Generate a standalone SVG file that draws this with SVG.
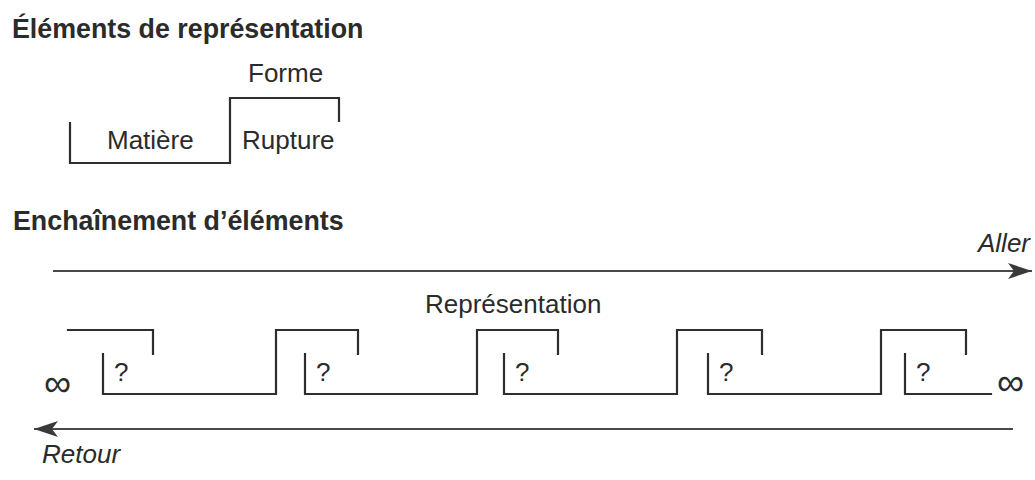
<svg xmlns="http://www.w3.org/2000/svg" width="1035" height="480" viewBox="0 0 1035 480">
<defs>
<style>
.t{font-family:"Liberation Sans",Arial,sans-serif;fill:#2b2b2b;font-size:26px}
.h{font-weight:bold;font-size:26.8px}
.i{font-style:italic}
.inf{font-family:"Liberation Sans",Arial,sans-serif;fill:#2b2b2b;font-size:38px}
.s{fill:none;stroke:#2e2e2e;stroke-width:2.2;stroke-linejoin:miter;stroke-linecap:square}
.a{fill:none;stroke:#4a4a4a;stroke-width:1.8}
</style>
<marker id="ah" markerUnits="userSpaceOnUse" markerWidth="26" markerHeight="18" refX="24" refY="9" orient="auto">
<path d="M0,1 L24,9 L0,17 L6,9 Z" fill="#3a3a3a"/>
</marker>
</defs>
<rect width="1035" height="480" fill="#ffffff"/>

<g id="title1"><text class="t h" x="12" y="38">Éléments de représentation</text></g>

<g id="element-legend">
<path class="s" d="M70,123 V163 H230 V98 H339 V121"/>
<text class="t" x="248" y="82">Forme</text>
<text class="t" x="107" y="149">Matière</text>
<text class="t" x="242" y="149">Rupture</text>
</g>

<g id="title2"><text class="t h" x="13" y="230">Enchaînement d’éléments</text></g>

<g id="connectors">
<line class="a" x1="53" y1="271" x2="1032" y2="271" marker-end="url(#ah)"/>
<line class="a" x1="1013" y1="429" x2="34" y2="429" marker-end="url(#ah)"/>
</g>
<text class="t i" x="978" y="252">Aller</text>
<text class="t i" x="42" y="463">Retour</text>
<text class="t" x="425" y="313">Représentation</text>

<g id="inf-left"><text class="inf" x="44" y="396">∞</text></g>
<g id="inf-right"><text class="inf" x="997" y="395">∞</text></g>

<g id="elem0"><path class="s" d="M68,330 H153 V354"/></g>
<g id="elem1"><path class="s" d="M103,354 V394 H276 V330 H358 V354"/><text class="t" x="114" y="381">?</text></g>
<g id="elem2"><path class="s" d="M305,354 V394 H477 V330 H558 V354"/><text class="t" x="316" y="381">?</text></g>
<g id="elem3"><path class="s" d="M504,354 V394 H677 V330 H762 V354"/><text class="t" x="515" y="381">?</text></g>
<g id="elem4"><path class="s" d="M708,354 V394 H881 V330 H966 V354"/><text class="t" x="719" y="381">?</text></g>
<g id="elem5"><path class="s" d="M905,354 V394 H991"/><text class="t" x="916" y="381">?</text></g>
</svg>
